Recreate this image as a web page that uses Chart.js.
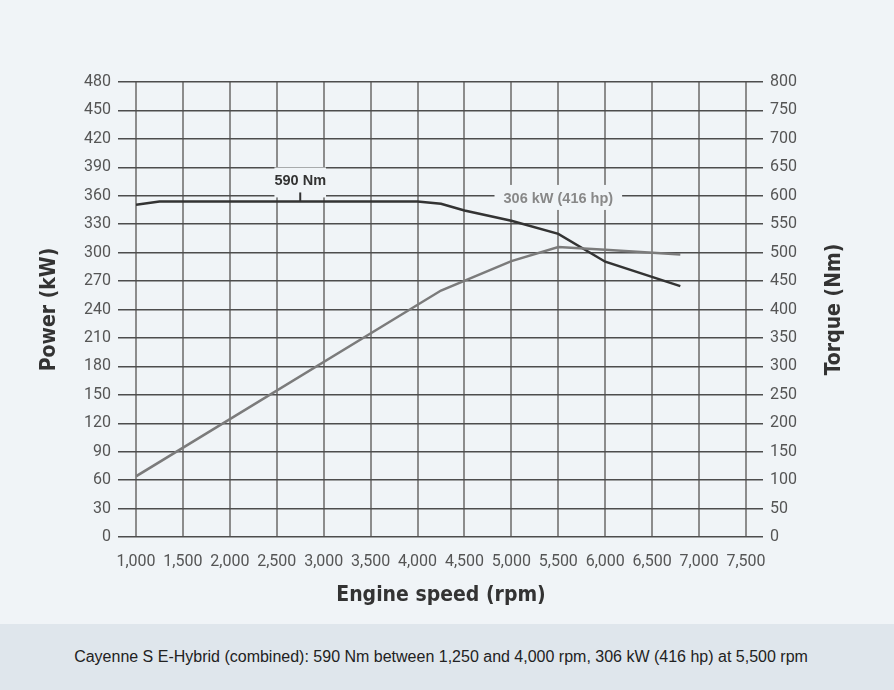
<!DOCTYPE html>
<html>
<head>
<meta charset="utf-8">
<title>Cayenne S E-Hybrid power and torque</title>
<script src="https://cdn.jsdelivr.net/npm/chart.js@4.4.1/dist/chart.umd.min.js"></script>
<style>
    html, body { margin: 0; padding: 0; }
    body { width: 894px; height: 690px; background: #f0f4f7; overflow: hidden; }
    #wrap { position: relative; width: 894px; height: 624px; }
    #footer {
        height: 66px; line-height: 66px; background: #dfe6ec; color: #222;
        text-align: center; padding-right: 12px;
        font-family: "Liberation Sans Narrow", "Liberation Sans", sans-serif; font-size: 16px;
    }
</style>
</head>
<body>
<div id="wrap"><canvas id="graph" width="894" height="624"></canvas></div>
<div id="footer">Cayenne S E-Hybrid (combined): 590 Nm between 1,250 and 4,000 rpm, 306 kW (416 hp) at 5,500 rpm</div>
<script>
// values
const powerRpm = [1000, 4250, 5000, 5500, 6000, 6800];
const powerKw = [64, 260, 291, 306, 303, 298];

const torqueRpm = [1000, 1250, 4000, 4250, 4500, 5000, 5500, 6000, 6800];
const torqueNm = [584, 590, 590, 586, 574, 556, 533, 484, 441];

const rpmRange = [1000, 7500, 500];   // min, max, step
const kwRange = [0, 480, 30];
const nmRange = [0, 800, 50];

// labels: [text, rpm, value, axis]
const peakTorque = ["590 Nm", 2750, 590, "y1"];
const peakPower = ["306 kW (416 hp)", 5500, 306, "y"];

const narrowBold = "'Liberation Sans Narrow', 'Liberation Sans', sans-serif";
const condBold = "'DejaVu Sans Condensed', 'DejaVu Sans', sans-serif";
const tickFont = { family: "Roboto, sans-serif", size: 16 };

function toPoints(xs, ys) {
    return xs.map((x, i) => ({ x: x, y: ys[i] }));
}

// draws the two value labels and the right axis title
const extras = {
    id: "extras",
    afterDatasetsDraw(chart) {
        const ctx = chart.ctx;
        const xs = chart.scales.x;

        ctx.save();
        ctx.font = "bold 14.5px " + narrowBold;
        ctx.textAlign = "center";
        ctx.textBaseline = "middle";

        // 590 Nm
        let px = xs.getPixelForValue(peakTorque[1]);
        let py = chart.scales[peakTorque[3]].getPixelForValue(peakTorque[2]);
        let w = ctx.measureText(peakTorque[0]).width;
        ctx.fillStyle = "#f0f4f7";
        ctx.fillRect(px - w / 2, py - 34, w, 30);
        ctx.fillStyle = "#333";
        ctx.fillText(peakTorque[0], px, py - 20);
        ctx.strokeStyle = "#333";
        ctx.lineWidth = 2;
        ctx.beginPath();
        ctx.moveTo(px, py - 9);
        ctx.lineTo(px, py);
        ctx.stroke();

        // 306 kW
        px = xs.getPixelForValue(peakPower[1]);
        py = chart.scales[peakPower[3]].getPixelForValue(peakPower[2]);
        w = ctx.measureText(peakPower[0]).width + 18;
        ctx.fillStyle = "#f0f4f7";
        ctx.fillRect(px - w / 2, py - 62, w, 25);
        ctx.fillStyle = "#888";
        ctx.fillText(peakPower[0], px, py - 48);

        // Torque (Nm), reads bottom to top like the left title
        const area = chart.chartArea;
        ctx.translate(835, (area.top + area.bottom) / 2);
        ctx.rotate(-Math.PI / 2);
        ctx.font = "bold 21px " + condBold;
        ctx.fillStyle = "#333";
        ctx.fillText("Torque (Nm)", 0, 0);
        ctx.restore();
    }
};

const graph = document.getElementById("graph");
let chart = new Chart(graph, {
    type: "line",
    data: {
        datasets: [{
            label: "Power (kW)",
            data: toPoints(powerRpm, powerKw),
            yAxisID: "y",
            borderColor: "#7b7b7b",
            borderWidth: 2.5,
            pointRadius: 0,
            tension: 0
        }, {
            label: "Torque (Nm)",
            data: toPoints(torqueRpm, torqueNm),
            yAxisID: "y1",
            borderColor: "#333",
            borderWidth: 2.5,
            pointRadius: 0,
            tension: 0
        }]
    },
    options: {
        responsive: false,
        animation: false,
        layout: { padding: { top: 82, left: 0, right: 0, bottom: 0 } },
        plugins: {
            legend: { display: false },
            tooltip: { enabled: false }
        },
        scales: {
            x: {
                type: "linear",
                min: rpmRange[0],
                max: rpmRange[1],
                ticks: {
                    stepSize: rpmRange[2],
                    color: "#555",
                    font: tickFont,
                    padding: 15,
                    maxRotation: 0,
                    autoSkip: false,
                    callback: v => v.toLocaleString("en-US")
                },
                grid: { color: "#8c8c8c", lineWidth: 2, drawTicks: false },
                border: { display: false },
                title: {
                    display: true,
                    text: "Engine speed (rpm)",
                    color: "#333",
                    font: { family: condBold, size: 21, weight: "bold" },
                    padding: { top: 0, bottom: 16 }
                },
                afterFit: s => { s.height = 87; }
            },
            y: {
                position: "left",
                min: kwRange[0],
                max: kwRange[1],
                ticks: { stepSize: kwRange[2], color: "#555", font: tickFont, padding: 7 },
                grid: { color: "#4d4d4d", lineWidth: 1.5, tickLength: 18 },
                border: { display: false },
                title: {
                    display: true,
                    text: "Power (kW)",
                    color: "#333",
                    font: { family: condBold, size: 21, weight: "bold" },
                    padding: { top: 37, bottom: 0 }
                },
                afterFit: s => { s.width = 136; }
            },
            y1: {
                position: "right",
                min: nmRange[0],
                max: nmRange[1],
                ticks: { stepSize: nmRange[2], color: "#555", font: tickFont, padding: 7 },
                grid: { drawOnChartArea: false, color: "#4d4d4d", lineWidth: 1.5, tickLength: 17 },
                border: { display: false },
                afterFit: s => { s.width = 148; }
            }
        }
    },
    plugins: [extras]
});
</script>
</body>
</html>
